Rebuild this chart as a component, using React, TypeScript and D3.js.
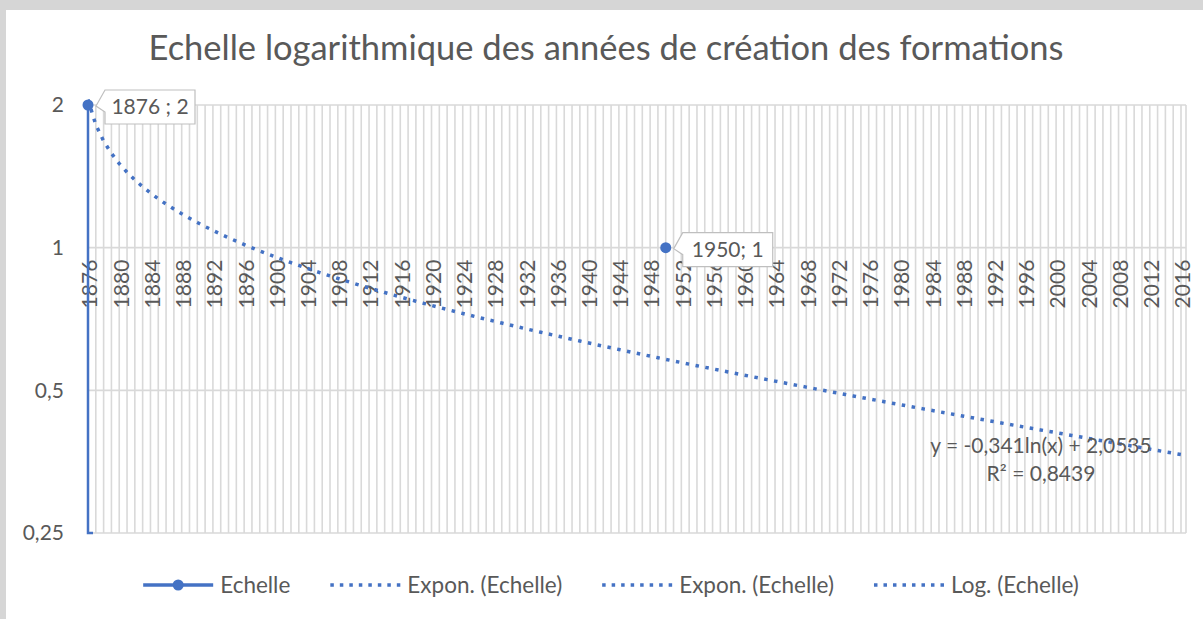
import React, { useEffect, useRef } from "react";
import * as d3 from "d3";

// categories: one per year, labels every 4 years
const years = d3.range(1876, 2017);
const labelStep = 4;

// series "Echelle" (only two non-empty points)
const echelle = [
  { year: 1876, value: 2 },
  { year: 1950, value: 1 },
];
const dataLabels = ["1876 ; 2", "1950; 1"];

// log axis
const yTicks = [2, 1, 0.5, 0.25];
const yTickLabels = ["2", "1", "0,5", "0,25"];

// log trendline as shown on the chart
const trendSlope = -0.341;
const trendIntercept = 2.0535;
const trendText = ["y = -0,341ln(x) + 2,0535", "R² = 0,8439"];

const legendNames = ["Echelle", "Expon. (Echelle)", "Expon. (Echelle)", "Log. (Echelle)"];
const legendKinds = ["line", "dot", "dot", "dot"];

const title = "Echelle logarithmique des années de création des formations";

const W = 1203;
const H = 619;
const blue = "#4472c4";
const textCol = "#595959";
const gridCol = "#d9d9d9";
const font = "Lato, 'Open Sans', sans-serif";

export default function App() {
  const svgRef = useRef<SVGSVGElement>(null);

  useEffect(() => {
    if (!svgRef.current) return;
    const svg = d3.select(svgRef.current);
    svg.selectAll("*").remove();

    const plot = { left: 88, right: 1186, top: 105, bottom: 533 };
    const lastX = 1181;

    // frame
    svg.append("rect").attr("width", W).attr("height", H).attr("fill", "#d6d6d6");
    svg.append("rect").attr("x", 6).attr("y", 10).attr("width", W - 6).attr("height", H - 10).attr("fill", "#fff");

    const x = d3.scalePoint<number>().domain(years).range([plot.left, lastX]);
    const y = d3.scaleLog().base(2).domain([0.25, 2]).range([plot.bottom, plot.top]);

    // title
    svg.append("text")
      .attr("x", 606)
      .attr("y", 60)
      .attr("text-anchor", "middle")
      .attr("font-family", font)
      .attr("font-size", 34.5)
      .attr("fill", textCol)
      .text(title);

    // vertical gridlines
    svg.append("g")
      .selectAll("line")
      .data(years)
      .join("line")
      .attr("x1", d => x(d)!)
      .attr("x2", d => x(d)!)
      .attr("y1", plot.top)
      .attr("y2", plot.bottom)
      .attr("stroke", gridCol)
      .attr("stroke-width", 1.6);

    svg.append("line")
      .attr("x1", plot.right).attr("x2", plot.right)
      .attr("y1", plot.top).attr("y2", plot.bottom)
      .attr("stroke", gridCol).attr("stroke-width", 1.6);

    // horizontal gridlines
    svg.append("g")
      .selectAll("line")
      .data(yTicks)
      .join("line")
      .attr("x1", plot.left)
      .attr("x2", plot.right)
      .attr("y1", d => y(d))
      .attr("y2", d => y(d))
      .attr("stroke", gridCol)
      .attr("stroke-width", 1.6);

    // y labels
    svg.append("g")
      .selectAll("text")
      .data(yTicks)
      .join("text")
      .attr("x", 64)
      .attr("y", d => y(d))
      .attr("dy", "0.35em")
      .attr("text-anchor", "end")
      .attr("font-family", font)
      .attr("font-size", 21)
      .attr("fill", textCol)
      .text((d, i) => yTickLabels[i]);

    // x labels (axis crosses at 1)
    const axisY = y(1);
    svg.append("g")
      .selectAll("text")
      .data(years.filter((d, i) => i % labelStep === 0))
      .join("text")
      .attr("transform", d => `translate(${x(d)! + 2}, ${axisY + 12}) rotate(-90)`)
      .attr("dy", "0.35em")
      .attr("text-anchor", "end")
      .attr("font-family", font)
      .attr("font-size", 21)
      .attr("fill", textCol)
      .text(d => String(d));

    // trendline
    const clipId = "plotclip";
    svg.append("clipPath").attr("id", clipId)
      .append("rect")
      .attr("x", plot.left).attr("y", plot.top - 6)
      .attr("width", plot.right - plot.left).attr("height", plot.bottom - plot.top + 6);

    const trend = years.map((yr, i) => ({ year: yr, value: trendIntercept + trendSlope * Math.log(i + 1) }));
    const line = d3.line<{ year: number; value: number }>()
      .x(d => x(d.year)!)
      .y(d => y(d.value));
    svg.append("path")
      .datum(trend)
      .attr("clip-path", `url(#${clipId})`)
      .attr("fill", "none")
      .attr("stroke", blue)
      .attr("stroke-width", 3.5)
      .attr("stroke-dasharray", "3.5 6.5")
      .attr("d", line);

    // series: first point drops to the floor (next value empty on a log axis)
    const first = echelle[0];
    svg.append("path")
      .attr("fill", "none")
      .attr("stroke", blue)
      .attr("stroke-width", 2.5)
      .attr("d", `M${x(first.year)},${y(first.value)}V${plot.bottom}h5`);

    svg.append("g")
      .selectAll("circle")
      .data(echelle)
      .join("circle")
      .attr("cx", d => x(d.year)!)
      .attr("cy", d => y(d.value))
      .attr("r", 5.5)
      .attr("fill", blue);

    // data label callouts
    echelle.forEach((d, i) => {
      const px = x(d.year)!;
      const py = y(d.value);
      const bx = px + 17;
      const by = py - 15;
      const bw = 90;
      const bh = 34;
      const g = svg.append("g");
      g.append("path")
        .attr("d", `M${bx},${by}H${bx + bw}V${by + bh}H${bx}V${by + 22}L${px + 8},${py + 1}Z`)
        .attr("fill", "#fff")
        .attr("stroke", "#bfbfbf")
        .attr("stroke-width", 1.2);
      g.append("text")
        .attr("x", bx + bw / 2)
        .attr("y", by + bh / 2)
        .attr("dy", "0.35em")
        .attr("text-anchor", "middle")
        .attr("font-family", font)
        .attr("font-size", 21)
        .attr("fill", textCol)
        .text(dataLabels[i]);
    });

    // trendline equation
    svg.append("g")
      .selectAll("text")
      .data(trendText)
      .join("text")
      .attr("x", 1041)
      .attr("y", (d, i) => 453 + i * 28)
      .attr("text-anchor", "middle")
      .attr("font-family", font)
      .attr("font-size", 21)
      .attr("fill", textCol)
      .text(d => d);

    // legend
    const legend = svg.append("g").attr("transform", "translate(0, 585)");
    let cx = 0;
    const items = legendNames.map((name, i) => {
      const g = legend.append("g");
      if (legendKinds[i] === "line") {
        g.append("line").attr("x1", 0).attr("x2", 70).attr("stroke", blue).attr("stroke-width", 3.5);
        g.append("circle").attr("cx", 35).attr("r", 5.5).attr("fill", blue);
      } else {
        g.append("line").attr("x1", 0).attr("x2", 70).attr("stroke", blue)
          .attr("stroke-width", 3.5).attr("stroke-dasharray", "3.5 6");
      }
      const t = g.append("text")
        .attr("x", 77)
        .attr("dy", "0.35em")
        .attr("font-family", font)
        .attr("font-size", 22.5)
        .attr("fill", textCol)
        .text(name);
      const w = 77 + (t.node() as SVGTextElement).getComputedTextLength();
      const item = { g, x: cx };
      cx += w + 40;
      return item;
    });
    const total = cx - 40;
    const start = 611 - total / 2;
    items.forEach(it => it.g.attr("transform", `translate(${start + it.x}, 0)`));
  }, []);

  return (
    <div style={{ position: "absolute", left: 0, top: 0 }}>
      <svg ref={svgRef} width={W} height={H} style={{ display: "block" }}></svg>
    </div>
  );
}
